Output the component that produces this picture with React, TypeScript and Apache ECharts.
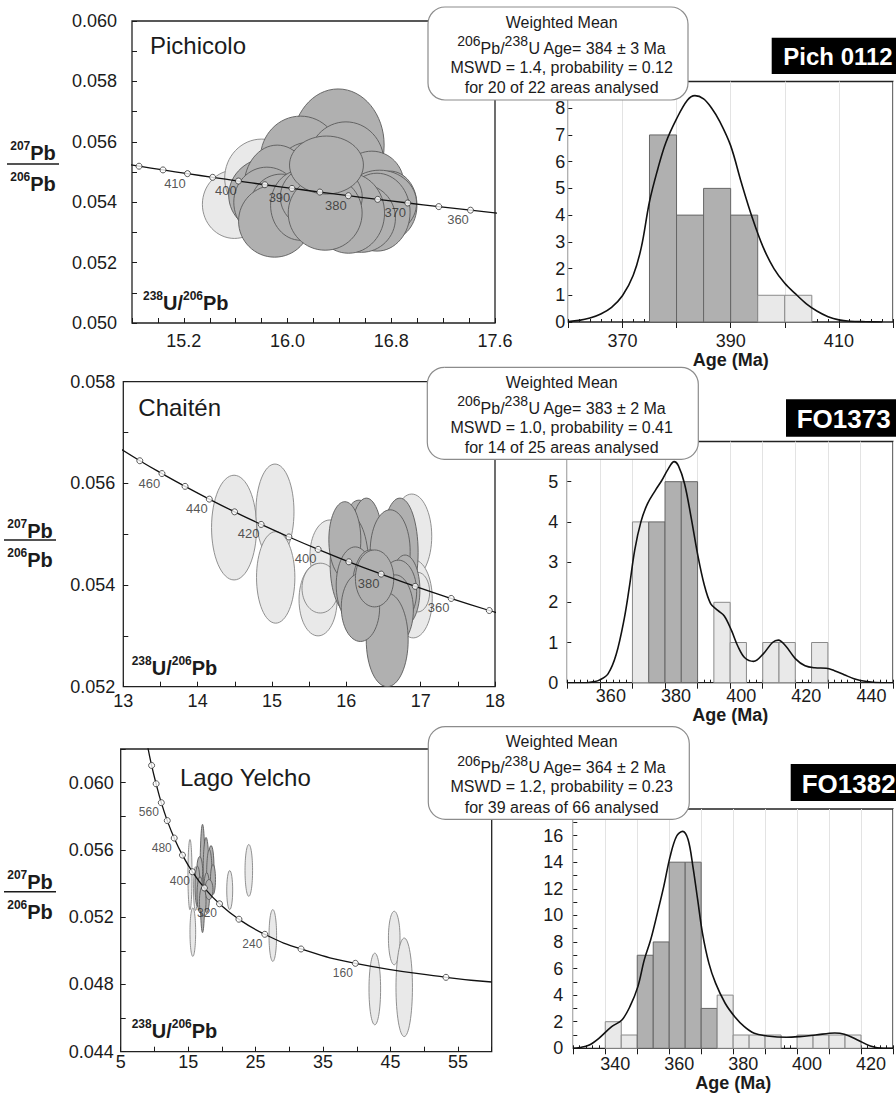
import React, { useEffect, useRef } from "react";
import * as echarts from "echarts";

const FONT = "'Liberation Sans', Arial, Helvetica, sans-serif";
const INK = "#1b1b1b";
const DARK_FILL = "#b0b0b0";
const DARK_EDGE = "#5a5a5a";
const LIGHT_FILL = "#e9e9e9";
const LIGHT_EDGE = "#858585";
const BIN_WIDTH = 5;

// ---------- Pichicolo (Pich 0112) ----------
const pichConcordia = [
  [14.674, 0.055316], [14.854, 0.055192], [15.039, 0.055069], [15.228, 0.054946],
  [15.422, 0.054823], [15.621, 0.054701], [15.825, 0.054578], [16.034, 0.054457],
  [16.249, 0.054336], [16.469, 0.054215], [16.695, 0.054094], [16.927, 0.053974],
  [17.166, 0.053854], [17.411, 0.053736], [17.663, 0.053617],
];
const pichMarkers = [
  [14.854, 0.055192, 420], [15.039, 0.055069, 415], [15.228, 0.054946, 410],
  [15.422, 0.054823, 405], [15.621, 0.054701, 400], [15.825, 0.054578, 395],
  [16.034, 0.054457, 390], [16.249, 0.054336, 385], [16.469, 0.054215, 380],
  [16.695, 0.054094, 375], [16.927, 0.053974, 370], [17.166, 0.053854, 365],
  [17.411, 0.053736, 360],
];
const pichAgeLabels = [410, 400, 390, 380, 370, 360];
const pichLight = [
  [15.59, 0.05393, 0.247, 0.00113],
  [15.80, 0.05480, 0.285, 0.00129],
];
const pichDark = [
  [16.39, 0.05589, 0.355, 0.00186],
  [16.10, 0.05546, 0.309, 0.00139],
  [16.45, 0.05533, 0.293, 0.00133],
  [16.17, 0.05473, 0.278, 0.00126],
  [16.54, 0.05440, 0.270, 0.00119],
  [16.65, 0.05460, 0.247, 0.00109],
  [16.79, 0.05390, 0.208, 0.00113],
  [16.71, 0.05397, 0.285, 0.00109],
  [16.69, 0.05367, 0.255, 0.00129],
  [16.57, 0.05347, 0.262, 0.00113],
  [16.47, 0.05364, 0.278, 0.00133],
  [15.87, 0.05423, 0.324, 0.00126],
  [15.92, 0.05453, 0.255, 0.00136],
  [15.84, 0.05400, 0.255, 0.00116],
  [15.95, 0.05384, 0.239, 0.00109],
  [15.90, 0.05337, 0.278, 0.00119],
  [16.10, 0.05390, 0.231, 0.00116],
  [16.26, 0.05417, 0.316, 0.00113],
  [16.29, 0.05364, 0.285, 0.00123],
  [16.30, 0.05523, 0.285, 0.00096],
];
const pichBinStart = [375, 380, 385, 390, 395, 400];
const pichCounts = [7, 4, 5, 4, 1, 1];
const pichInMean = [1, 1, 1, 1, 0, 0];
const pichDensity = [
  [360, 0.02], [362, 0.06], [364, 0.15], [366, 0.3], [368, 0.55], [370, 0.98],
  [372, 1.75], [373.5, 2.8], [375, 4.5], [376.5, 5.7], [378, 6.7], [380, 7.6],
  [382, 8.3], [383.4, 8.47], [385, 8.35], [386.5, 8.0], [388, 7.5], [390, 6.6],
  [392, 5.2], [394, 3.9], [396, 2.8], [398, 2.0], [400, 1.45], [402, 1.05],
  [404, 0.68], [406, 0.4], [408, 0.2], [410, 0.08], [412, 0.03], [415, 0.01], [418, 0],
];

// ---------- Chaitén (FO1373) ----------
const chaitenConcordia = [
  [12.936, 0.056703], [13.222, 0.056445], [13.52, 0.056193], [13.831, 0.055941],
  [14.157, 0.05569], [14.497, 0.05544], [14.854, 0.055192], [15.228, 0.054946],
  [15.621, 0.054701], [16.034, 0.054457], [16.469, 0.054215], [16.927, 0.053974],
  [17.411, 0.053736], [17.923, 0.053499], [18.465, 0.053263],
];
const chaitenMarkers = [
  [13.222, 0.056445, 470], [13.52, 0.056193, 460], [13.831, 0.055941, 450],
  [14.157, 0.05569, 440], [14.497, 0.05544, 430], [14.854, 0.055192, 420],
  [15.228, 0.054946, 410], [15.621, 0.054701, 400], [16.034, 0.054457, 390],
  [16.469, 0.054215, 380], [16.927, 0.053974, 370], [17.411, 0.053736, 360],
  [17.923, 0.053499, 350],
];
const chaitenAgeLabels = [460, 440, 420, 400, 380, 360];
const chaitenLight = [
  [14.49, 0.05513, 0.303, 0.00103],
  [15.04, 0.05544, 0.256, 0.00094],
  [15.05, 0.05415, 0.258, 0.0009],
  [15.78, 0.05459, 0.269, 0.00069],
  [15.62, 0.05371, 0.256, 0.00071],
  [15.65, 0.05394, 0.246, 0.00049],
  [16.88, 0.05496, 0.269, 0.00083],
  [16.90, 0.05373, 0.256, 0.00077],
  [16.96, 0.05386, 0.161, 0.00039],
];
const chaitenDark = [
  [16.17, 0.05469, 0.258, 0.00098],
  [16.27, 0.05474, 0.225, 0.00097],
  [16.04, 0.05441, 0.258, 0.00097],
  [16.72, 0.05464, 0.246, 0.00107],
  [16.59, 0.05466, 0.269, 0.00082],
  [15.98, 0.05489, 0.215, 0.00075],
  [16.12, 0.05400, 0.256, 0.00075],
  [16.32, 0.05390, 0.242, 0.00079],
  [16.79, 0.05390, 0.200, 0.00069],
  [16.70, 0.05387, 0.246, 0.00062],
  [16.66, 0.05351, 0.242, 0.00069],
  [16.55, 0.05292, 0.282, 0.00092],
  [16.19, 0.05356, 0.258, 0.00067],
  [16.38, 0.05413, 0.258, 0.00056],
];
const chaitenBinStart = [370, 375, 380, 385, 395, 400, 410, 415, 425];
const chaitenCounts = [4, 4, 5, 5, 2, 1, 1, 1, 1];
const chaitenInMean = [0, 1, 1, 1, 0, 0, 0, 0, 0];
const chaitenDensity = [
  [350, 0], [356, 0], [358, 0.02], [360, 0.07], [362.5, 0.22], [365, 0.7],
  [367.5, 1.6], [369, 2.35], [370.7, 3.3], [372.6, 4.0], [374.6, 4.45], [377, 4.78],
  [379, 5.03], [381, 5.32], [382.8, 5.5], [384.1, 5.4], [386, 4.95], [388, 4.12],
  [390, 3.2], [392, 2.45], [394, 1.97], [396.2, 1.8], [398.2, 1.66], [400.4, 1.3],
  [402.4, 0.9], [404.5, 0.62], [407.2, 0.53], [410.3, 0.73], [413, 1.0], [414.8, 1.06],
  [417, 0.92], [420, 0.6], [423, 0.42], [426, 0.37], [429.5, 0.36], [432, 0.3],
  [435, 0.2], [438, 0.1], [442, 0.03], [447, 0], [450, 0],
];

// ---------- Lago Yelcho (FO1382) ----------
const yelchoConcordia = [
  [8.989, 0.062167], [9.581, 0.061022], [10.252, 0.059932], [11.019, 0.058808],
  [11.904, 0.057742], [12.936, 0.056703], [14.157, 0.05569], [15.621, 0.054701],
  [17.411, 0.053736], [19.649, 0.052795], [22.527, 0.051878], [26.363, 0.050981],
  [31.735, 0.050108], [39.792, 0.049255], [53.22, 0.048422], [60.0, 0.048146],
];
const yelchoMarkers = [
  [9.581, 0.061022, 640], [10.252, 0.059932, 600], [11.019, 0.058808, 560],
  [11.904, 0.057742, 520], [12.936, 0.056703, 480], [14.157, 0.05569, 440],
  [15.621, 0.054701, 400], [17.411, 0.053736, 360], [19.649, 0.052795, 320],
  [22.527, 0.051878, 280], [26.363, 0.050981, 240], [31.735, 0.050108, 200],
  [39.792, 0.049255, 160], [53.22, 0.048422, 120],
];
const yelchoAgeLabels = [560, 480, 400, 320, 240, 160];
const yelchoLight = [
  [15.27, 0.05453, 0.30, 0.00209],
  [16.10, 0.05370, 0.30, 0.00130],
  [15.69, 0.05111, 0.42, 0.00144],
  [21.16, 0.05361, 0.44, 0.00116],
  [23.99, 0.05478, 0.56, 0.00154],
  [27.55, 0.05091, 0.56, 0.00154],
  [45.55, 0.05076, 0.86, 0.00159],
  [42.67, 0.04773, 0.86, 0.00213],
  [47.03, 0.04783, 1.22, 0.00293],
];
const yelchoDark = [
  [17.35, 0.05543, 0.37, 0.00119],
  [17.13, 0.05430, 0.37, 0.00322],
  [17.65, 0.05480, 0.42, 0.00194],
  [18.39, 0.05495, 0.44, 0.00131],
  [18.14, 0.05453, 0.40, 0.00149],
  [18.68, 0.05424, 0.37, 0.00089],
  [16.71, 0.05471, 0.44, 0.00089],
  [16.39, 0.05384, 0.37, 0.00119],
  [16.76, 0.05334, 0.44, 0.00107],
  [17.75, 0.05346, 0.44, 0.00119],
  [18.09, 0.05364, 0.59, 0.0006],
  [17.16, 0.05294, 0.49, 0.00089],
];
const yelchoBinStart = [340, 345, 350, 355, 360, 365, 370, 375, 380, 385, 390, 400, 405, 410, 415];
const yelchoCounts = [2, 1, 7, 8, 14, 14, 3, 4, 1, 1, 1, 1, 1, 1, 1];
const yelchoInMean = [0, 0, 1, 1, 1, 1, 1, 0, 0, 0, 0, 0, 0, 0, 0];
const yelchoDensity = [
  [330, 0], [332, 0.05], [335, 0.25], [338, 0.75], [342, 1.63], [345.2, 2.13],
  [347.7, 3.13], [350.2, 4.64], [352.2, 6.65], [354.2, 8.16], [356.3, 10.17],
  [358.3, 12.18], [360.3, 14.44], [362.3, 15.95], [364.2, 16.32], [365.9, 15.7],
  [367.4, 13.69], [368.9, 11.18], [370.4, 8.67], [372.4, 6.41], [374.5, 4.9],
  [377.5, 3.39], [380.5, 2.38], [383.5, 1.63], [386.6, 1.13], [390.6, 0.93],
  [396.7, 0.83], [400.7, 0.88], [405.8, 1.0], [411.8, 1.15], [414.8, 1.05],
  [418.9, 0.63], [422.9, 0.17], [427, 0], [430, 0],
];

// Panel texts
const sites = ["Pichicolo", "Chaitén", "Lago Yelcho"];
const samples = ["Pich 0112", "FO1373", "FO1382"];
const meanAges = ["384 ± 3 Ma", "383 ± 2 Ma", "364 ± 2 Ma"];
const mswdLines = [
  "MSWD = 1.4, probability = 0.12",
  "MSWD = 1.0, probability = 0.41",
  "MSWD = 1.2, probability = 0.23",
];
const countLines = [
  "for 20 of 22 areas analysed",
  "for 14 of 25 areas analysed",
  "for 39 areas of 66 analysed",
];

// Layout of the six plotting areas (concordia left, histogram right)
const GRIDS = [
  { left: 132, top: 21, width: 363, height: 302 },
  { left: 568.3, top: 81.5, width: 335.4, height: 240.5 },
  { left: 123.3, top: 381.7, width: 371.7, height: 305 },
  { left: 567.3, top: 441.5, width: 336, height: 241.2 },
  { left: 120.7, top: 749, width: 371, height: 302.7 },
  { left: 573.3, top: 809, width: 330, height: 239.3 },
];

function ellipseSeries(data: number[][], dark: boolean, axis: number) {
  return {
    type: "custom",
    xAxisIndex: axis,
    yAxisIndex: axis,
    clip: true,
    silent: true,
    z: 2,
    data,
    renderItem: (_params: any, api: any) => {
      const c = api.coord([api.value(0), api.value(1)]);
      const s = api.size([api.value(2), api.value(3)]);
      return {
        type: "ellipse",
        shape: { cx: c[0], cy: c[1], rx: s[0], ry: s[1] },
        style: {
          fill: dark ? DARK_FILL : LIGHT_FILL,
          stroke: dark ? DARK_EDGE : LIGHT_EDGE,
          lineWidth: 0.9,
        },
      };
    },
  };
}

function concordiaSeries(curve: number[][], markers: number[][], labelled: number[], axis: number) {
  return [
    {
      type: "line",
      xAxisIndex: axis,
      yAxisIndex: axis,
      data: curve,
      smooth: 0.5,
      symbol: "none",
      silent: true,
      lineStyle: { color: "#111", width: 1.3 },
      z: 3,
    },
    {
      type: "scatter",
      xAxisIndex: axis,
      yAxisIndex: axis,
      data: markers,
      symbol: "circle",
      symbolSize: 6,
      silent: true,
      itemStyle: { color: "#fff", borderColor: "#333", borderWidth: 1 },
      label: {
        show: true,
        // age label sits down and to the left of its marker
        position: [-9, 13],
        align: "center",
        verticalAlign: "middle",
        color: "#2a2a2a",
        fontSize: axis === 4 ? 12 : 13,
        fontFamily: FONT,
        formatter: (p: any) => (labelled.includes(p.value[2]) ? String(p.value[2]) : ""),
      },
      z: 4,
    },
  ];
}

function histogramSeries(starts: number[], counts: number[], inMean: number[], density: number[][], axis: number) {
  const bars = starts.map((s, i) => [s, s + BIN_WIDTH, counts[i], inMean[i]]);
  return [
    {
      type: "custom",
      xAxisIndex: axis,
      yAxisIndex: axis,
      silent: true,
      z: 2,
      data: bars,
      renderItem: (_params: any, api: any) => {
        const a = api.coord([api.value(0), api.value(2)]);
        const b = api.coord([api.value(1), 0]);
        const dark = api.value(3) === 1;
        return {
          type: "rect",
          shape: { x: a[0], y: a[1], width: b[0] - a[0], height: b[1] - a[1] },
          style: {
            fill: dark ? DARK_FILL : LIGHT_FILL,
            stroke: dark ? "#666" : "#8a8a8a",
            lineWidth: 1,
          },
        };
      },
    },
    {
      type: "line",
      xAxisIndex: axis,
      yAxisIndex: axis,
      data: density,
      smooth: 0.35,
      symbol: "none",
      silent: true,
      lineStyle: { color: "#111", width: 1.6 },
      z: 4,
    },
  ];
}

const tickStyle = { color: INK, width: 1 };

function concordiaX(grid: number, min: number, max: number, interval: number, margin: number, show: (v: number) => boolean, digits: number) {
  return {
    gridIndex: grid,
    type: "value",
    min,
    max,
    interval,
    axisLine: { show: false },
    axisTick: { show: true, inside: true, length: 5, lineStyle: tickStyle },
    splitLine: { show: false },
    axisLabel: {
      fontSize: 18,
      color: INK,
      margin,
      showMinLabel: true,
      showMaxLabel: true,
      formatter: (v: number) => (show(v) ? v.toFixed(digits) : ""),
    },
  };
}

function concordiaY(grid: number, min: number, max: number, interval: number, margin: number, show: (v: number) => boolean) {
  return {
    gridIndex: grid,
    type: "value",
    min,
    max,
    interval,
    axisLine: { show: false },
    axisTick: { show: true, inside: true, length: 5, lineStyle: tickStyle },
    splitLine: { show: false },
    axisLabel: {
      fontSize: 18,
      color: INK,
      margin,
      formatter: (v: number) => (show(v) ? v.toFixed(3) : ""),
    },
  };
}

function ageAxis(grid: number, min: number, max: number, margin: number, nameGap: number, shift: number, show: (v: number) => boolean) {
  return {
    gridIndex: grid,
    type: "value",
    min,
    max,
    interval: 10,
    axisLine: { show: false },
    axisTick: { show: true, inside: false, length: 6, lineStyle: tickStyle },
    splitLine: { show: true, lineStyle: { color: "#e3e3e3", width: 1 } },
    axisLabel: {
      fontSize: 18,
      color: INK,
      margin,
      padding: [0, 0, 0, shift],
      formatter: (v: number) => (show(v) ? String(v) : ""),
    },
    name: "Age (Ma)",
    nameLocation: "middle",
    nameGap,
    nameTextStyle: { fontSize: 18, fontWeight: "bold", color: INK, fontFamily: FONT },
  };
}

function ageMinorAxis(grid: number, min: number, max: number) {
  return {
    gridIndex: grid,
    type: "value",
    position: "bottom",
    min,
    max,
    interval: 2,
    axisLine: { show: false },
    axisTick: { show: true, inside: true, length: 3, lineStyle: tickStyle },
    axisLabel: { show: false },
    splitLine: { show: false },
  };
}

function countAxis(grid: number, max: number, margin: number, show: (v: number) => boolean) {
  return {
    gridIndex: grid,
    type: "value",
    min: 0,
    max,
    interval: 1,
    axisLine: { show: false },
    axisTick: { show: true, inside: true, length: 4, lineStyle: tickStyle },
    splitLine: { show: false },
    axisLabel: {
      fontSize: 18,
      color: INK,
      margin,
      showMaxLabel: false,
      formatter: (v: number) => (show(v) ? String(v) : ""),
    },
  };
}

// Rich-text styles: the small raised isotope numbers sit at the top of the line,
// the element symbols at the bottom; line heights fix the raise (about 7 px).
const ratioRich = {
  s: { fontSize: 12, fontWeight: "bold", fontFamily: FONT, fill: INK, lineHeight: 12, verticalAlign: "top" },
  m: { fontSize: 20, fontWeight: "bold", fontFamily: FONT, fill: INK, lineHeight: 23, verticalAlign: "bottom" },
};

const boxRich = {
  s: { fontSize: 14, fontFamily: FONT, fill: INK, lineHeight: 14, verticalAlign: "top" },
  n: { fontSize: 16, fontFamily: FONT, fill: INK, lineHeight: 22, verticalAlign: "bottom" },
};

function panelTexts(i: number) {
  const yTitle = [
    { top: 153, line: 164, bottom: 184, x1: 7, x2: 59, cx: 33 },
    { top: 531, line: 540, bottom: 560, x1: 4, x2: 56, cx: 30 },
    { top: 882, line: 891.7, bottom: 912, x1: 4, x2: 56, cx: 30 },
  ][i];
  const xTitle = [
    { x: 143, y: 303 },
    { x: 131.7, y: 668 },
    { x: 131.7, y: 1031 },
  ][i];
  const site = [
    { x: 150, y: 45 },
    { x: 138.3, y: 407 },
    { x: 180, y: 777 },
  ][i];
  const box = [
    { x: 428, y: 7, w: 260, h: 93 },
    { x: 427.3, y: 367.3, w: 271, h: 92 },
    { x: 428.3, y: 726.7, w: 261, h: 92.6 },
  ][i];
  const tag = [
    { x: 771.7, y: 37.7, h: 36.3, tx: 783.3, size: 24 },
    { x: 786, y: 399.3, h: 37.4, tx: 796.7, size: 26 },
    { x: 790.7, y: 764, h: 37, tx: 801.7, size: 26 },
  ][i];
  const cx = 561.7;
  const text = (x: number, y: number, style: any) => ({
    type: "text",
    x,
    y,
    z: 101,
    silent: true,
    style: { fontFamily: FONT, fill: INK, verticalAlign: "middle", ...style },
  });
  return [
    text(yTitle.cx, yTitle.top - 1.5, { text: "{s|207}{m|Pb}", rich: ratioRich, align: "center" }),
    {
      type: "line",
      z: 101,
      silent: true,
      shape: { x1: yTitle.x1, y1: yTitle.line, x2: yTitle.x2, y2: yTitle.line },
      style: { stroke: INK, lineWidth: 1.6 },
    },
    text(yTitle.cx, yTitle.bottom - 1.5, { text: "{s|206}{m|Pb}", rich: ratioRich, align: "center" }),
    text(xTitle.x, xTitle.y - 1.5, { text: "{s|238}{m|U/}{s|206}{m|Pb}", rich: ratioRich, align: "left" }),
    text(site.x, site.y, { text: sites[i], fontSize: 24, align: "left" }),
    {
      type: "rect",
      z: 100,
      silent: true,
      shape: { x: box.x, y: box.y, width: box.w, height: box.h, r: 17 },
      style: { fill: "#fff", stroke: "#8c8c8c", lineWidth: 1.2 },
    },
    text(cx, box.y + 15, { text: "Weighted Mean", fontSize: 16, align: "center" }),
    text(cx, box.y + 38, {
      text: `{s|206}{n|Pb/}{s|238}{n|U Age= ${meanAges[i]}}`,
      rich: boxRich,
      align: "center",
    }),
    text(cx, box.y + 60, { text: mswdLines[i], fontSize: 16, align: "center" }),
    text(cx, box.y + 80.3, { text: countLines[i], fontSize: 16, align: "center" }),
    {
      type: "rect",
      z: 100,
      silent: true,
      shape: { x: tag.x, y: tag.y, width: 140, height: tag.h },
      style: { fill: "#000" },
    },
    text(tag.tx, tag.y + tag.h / 2 + 1, {
      text: samples[i],
      fontSize: tag.size,
      fontWeight: "bold",
      fill: "#fff",
      align: "left",
    }),
  ];
}

function buildOption() {
  const frame = { show: true, borderColor: "#222", borderWidth: 1.3, backgroundColor: "transparent" };
  return {
    animation: false,
    backgroundColor: "#fff",
    textStyle: { fontFamily: FONT },
    grid: GRIDS.map((g) => ({ ...g, ...frame, containLabel: false })),
    xAxis: [
      concordiaX(0, 14.8, 17.6, 0.2, 9, (v) => (Math.round(v * 10) - 152) % 8 === 0 && v > 15, 1),
      ageAxis(1, 360, 420, 10, 28, 0, (v) => v % 20 === 10),
      concordiaX(2, 13, 18, 0.5, 5, (v) => Math.abs(v - Math.round(v)) < 1e-6, 0),
      ageAxis(3, 350, 450, 4, 20, 22, (v) => v % 20 === 0),
      concordiaX(4, 5, 60, 5, 1, (v) => Math.round(v - 5) % 10 === 0 && v < 60, 0),
      ageAxis(5, 330, 430, 7, 26, 20, (v) => v % 20 === 0),
      ageMinorAxis(1, 360, 420),
      ageMinorAxis(3, 350, 450),
      ageMinorAxis(5, 330, 430),
    ],
    yAxis: [
      concordiaY(0, 0.05, 0.06, 0.001, 15, (v) => Math.round(v * 1000) % 2 === 0),
      countAxis(1, 9, 3, (v) => v < 9),
      concordiaY(2, 0.052, 0.058, 0.001, 8, (v) => Math.round(v * 1000) % 2 === 0),
      countAxis(3, 6, 9, (v) => v < 6),
      concordiaY(4, 0.044, 0.062, 0.002, 7, (v) => (Math.round(v * 1000) - 44) % 4 === 0 && v < 0.0615),
      countAxis(5, 18, 10, (v) => v % 2 === 0 && v < 18),
    ],
    series: [
      ellipseSeries(pichLight, false, 0),
      ellipseSeries(pichDark, true, 0),
      ...concordiaSeries(pichConcordia, pichMarkers, pichAgeLabels, 0),
      ...histogramSeries(pichBinStart, pichCounts, pichInMean, pichDensity, 1),
      ellipseSeries(chaitenLight, false, 2),
      ellipseSeries(chaitenDark, true, 2),
      ...concordiaSeries(chaitenConcordia, chaitenMarkers, chaitenAgeLabels, 2),
      ...histogramSeries(chaitenBinStart, chaitenCounts, chaitenInMean, chaitenDensity, 3),
      ellipseSeries(yelchoLight, false, 4),
      ellipseSeries(yelchoDark, true, 4),
      ...concordiaSeries(yelchoConcordia, yelchoMarkers, yelchoAgeLabels, 4),
      ...histogramSeries(yelchoBinStart, yelchoCounts, yelchoInMean, yelchoDensity, 5),
    ],
    graphic: [...panelTexts(0), ...panelTexts(1), ...panelTexts(2)],
  };
}

export default function App() {
  const ref = useRef<HTMLDivElement>(null);
  useEffect(() => {
    if (!ref.current) return;
    const chart = echarts.init(ref.current, undefined, { renderer: "svg" });
    chart.setOption(buildOption() as any);
    return () => chart.dispose();
  }, []);
  return (
    <div
      ref={ref}
      style={{ position: "fixed", left: 0, top: 0, width: 896, height: 1095, background: "#fff" }}
    />
  );
}
